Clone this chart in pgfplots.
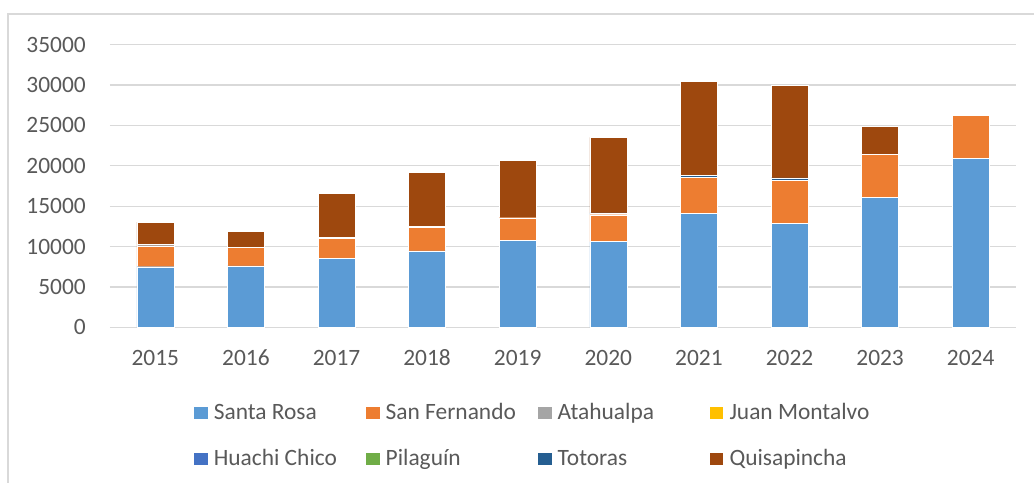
\documentclass[border=0pt]{standalone}
\usepackage{fontspec}
\setmainfont{Carlito}
\usepackage{pgfplots}
\pgfplotsset{compat=1.18}
\definecolor{cSR}{HTML}{5B9BD5}
\definecolor{cSF}{HTML}{ED7D31}
\definecolor{cAT}{HTML}{A5A5A5}
\definecolor{cJM}{HTML}{FFC000}
\definecolor{cHC}{HTML}{4472C4}
\definecolor{cPI}{HTML}{70AD47}
\definecolor{cTO}{HTML}{255E91}
\definecolor{cQU}{HTML}{9E480E}
\definecolor{txt}{HTML}{595959}
\definecolor{grd}{HTML}{D9D9D9}
\newcommand{\lgent}[1]{\makebox[152.5bp][l]{#1}}
\begin{document}
\begin{tikzpicture}[x=1bp,y=1bp]
\begin{axis}[
  scale only axis, width=906bp, height=282.6bp,
  ybar stacked, bar width=37bp,
  xmin=-0.5, xmax=9.5, ymin=0, ymax=35000,
  xtick={0,...,9},
  xticklabels={2015,2016,2017,2018,2019,2020,2021,2022,2023,2024},
  ytick={0,5000,...,35000},
  scaled y ticks=false,
  /pgf/number format/.cd, 1000 sep={}, assume math mode=true, /pgfplots/.cd,
  ymajorgrids, grid style={grd, line width=1.3bp},
  separate axis lines,
  x axis line style={grd, line width=1.3bp},
  y axis line style={draw=none},
  major tick length=0pt,
  tick label style={font=\fontsize{23.5}{28}\selectfont, text=txt, inner sep=0pt},
  yticklabel style={xshift=-24bp},
  xticklabel style={yshift=-22.4bp},
  clip=false,
  legend columns=4,
  legend style={draw=none, fill=none, inner sep=0pt, outer sep=0pt,
    at={(0.09316,-0.2619)}, anchor=north west,
    font=\fontsize{23.5}{28}\selectfont, text=txt,
    nodes={inner sep=0pt, text height=18bp, text depth=6bp, anchor=base west},
    row sep=22bp},
  legend cell align=left,
  legend image code/.code={\fill[#1,draw=none] (0bp,0bp) rectangle (13.3bp,12.7bp); \path (19.2bp,0bp);},
  every axis plot/.append style={draw=white, line width=0.4bp},
]
\addplot[fill=cSR] coordinates {(0,7500) (1,7620) (2,8570) (3,9470) (4,10780) (5,10620) (6,14100) (7,12910) (8,16070) (9,20950)};
\addlegendentry{\lgent{Santa Rosa}}
\addplot[fill=cSF] coordinates {(0,2590) (1,2300) (2,2460) (3,2910) (4,2790) (5,3320) (6,4430) (7,5330) (8,5330) (9,5290)};
\addlegendentry{\lgent{San Fernando}}
\addplot[fill=cAT] coordinates {(0,150) (1,0) (2,100) (3,80) (4,0) (5,60) (6,60) (7,0) (8,0) (9,100)};
\addlegendentry{\lgent{Atahualpa}}
\addplot[fill=cJM] coordinates {(0,0) (1,0) (2,0) (3,0) (4,0) (5,0) (6,0) (7,0) (8,0) (9,0)};
\addlegendentry{\lgent{Juan Montalvo}}
\addplot[fill=cHC] coordinates {(0,0) (1,0) (2,0) (3,0) (4,0) (5,0) (6,0) (7,0) (8,0) (9,0)};
\addlegendentry{\lgent{Huachi Chico}}
\addplot[fill=cPI] coordinates {(0,0) (1,0) (2,0) (3,0) (4,0) (5,0) (6,0) (7,0) (8,0) (9,130)};
\addlegendentry{\lgent{Pilaguín}}
\addplot[fill=cTO] coordinates {(0,0) (1,0) (2,0) (3,0) (4,0) (5,180) (6,260) (7,280) (8,0) (9,0)};
\addlegendentry{\lgent{Totoras}}
\addplot[fill=cQU] coordinates {(0,2800) (1,1970) (2,5440) (3,6770) (4,7090) (5,9350) (6,11650) (7,11410) (8,3450) (9,0)};
\addlegendentry{\lgent{Quisapincha}}
\coordinate (bl) at (rel axis cs:0,0);
\end{axis}
\pgfresetboundingbox
\path[use as bounding box] (bl) ++(-110,-155.7) rectangle ++(1034,483);
\draw[grd, line width=1.2bp] (bl) ++(-102,-155.7) -- ++(0,469) -- ++(1026,0);
\end{tikzpicture}
\end{document}
